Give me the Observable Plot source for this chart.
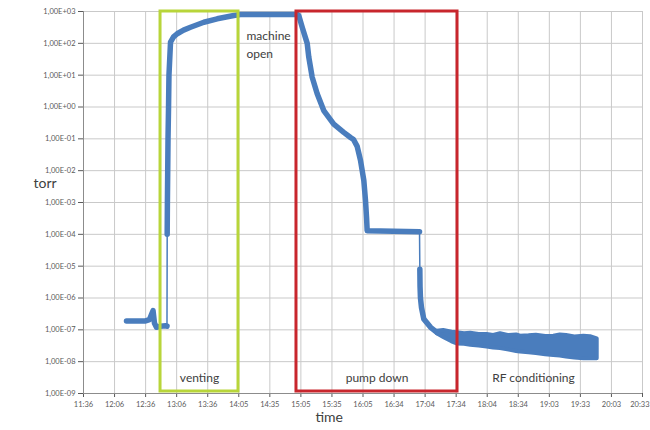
<!DOCTYPE html>
<html>
<head>
<meta charset="utf-8">
<script src="https://cdn.jsdelivr.net/npm/d3@7"></script>
<script src="https://cdn.jsdelivr.net/npm/@observablehq/plot@0.6"></script>
<style>
  html, body { margin: 0; padding: 0; background: #fff; }
  #chart { width: 650px; height: 430px; }
</style>
</head>
<body>
<div id="chart"></div>
<script>
// ---- Axis ticks ----
const xTickLabels = ["11:36","12:06","12:36","13:06","13:36","14:05","14:35","15:05","15:35","16:05","16:34","17:04","17:34","18:04","18:34","19:03","19:33","20:03","20:33"];
const axisStartMin = 696;   // 11:36 in minutes after midnight
const axisEndMin = 1233;    // 20:33
const yTickValues = [1e3, 1e2, 1e1, 1e0, 1e-1, 1e-2, 1e-3, 1e-4, 1e-5, 1e-6, 1e-7, 1e-8, 1e-9];
const yTickLabels = ["1,00E+03","1,00E+02","1,00E+01","1,00E+00","1,00E-01","1,00E-02","1,00E-03","1,00E-04","1,00E-05","1,00E-06","1,00E-07","1,00E-08","1,00E-09"];

// ---- Pressure data (time in minutes after midnight, pressure in torr) ----
// idle vacuum before venting
const idleTime = [737.3, 746.0, 755.6, 759.4, 761.3, 762.8, 764.2, 766.1, 770.0, 774.8, 776.2];
const idleTorr = [1.9e-7, 1.9e-7, 1.9e-7, 2.1e-7, 3.0e-7, 4.0e-7, 1.6e-7, 1.2e-7, 1.3e-7, 1.35e-7, 1.3e-7];
// venting, machine open, first pump down stage
const ventTime = [776.4, 776.6, 776.9, 777.2, 777.7, 778.1, 779.6, 782.5, 786.0, 792.1, 798.8, 811.6, 824.4, 840.4, 846.8, 901.6,
                  902.8, 906.1, 910.9, 912.4, 915.7, 920.5, 926.8, 936.4, 946.0, 952.5, 955.4, 958.9, 962.1, 965.3, 966.9, 967.9, 968.5, 1018.8];
const ventTorr = [1.0e-4, 1.0e-3, 1.0e-2, 1.0e-1, 1.0, 10, 110, 160, 200, 260, 320, 460, 590, 750, 800, 800,
                  750, 320, 100, 37, 8.6, 2.6, 0.77, 0.29, 0.16, 0.11, 0.095, 0.058, 0.021, 0.0049, 0.00115, 0.00034, 0.00013, 0.00012];
// second pump down stage
const pumpTime = [1019.1, 1019.3, 1019.7, 1020.7, 1022.9, 1029.4, 1035.8];
const pumpTorr = [8e-6, 2.3e-6, 1e-6, 5e-7, 2.2e-7, 1.2e-7, 8.2e-8];
// RF conditioning: noisy band (low / high envelope)
const rfTime = [1035.8, 1042.0, 1050.0, 1055.0, 1062.0, 1068.0, 1076.0, 1083.8, 1090.0, 1096.6, 1105.0, 1112.0, 1115.8, 1124.0, 1131.0, 1140.0, 1147.8, 1154.0, 1160.0, 1168.0, 1176.6, 1183.0, 1189.5];
const rfLow  = [7.5e-8, 5.8e-8, 4.2e-8, 3.6e-8, 3.5e-8, 3.3e-8, 3.1e-8, 2.9e-8, 2.7e-8, 2.6e-8, 2.3e-8, 2.1e-8, 2.0e-8, 1.9e-8, 1.8e-8, 1.65e-8, 1.55e-8, 1.5e-8, 1.4e-8, 1.3e-8, 1.23e-8, 1.25e-8, 1.23e-8];
const rfHigh = [9.0e-8, 9.5e-8, 8.4e-8, 8.1e-8, 7.5e-8, 7.8e-8, 7.2e-8, 7.1e-8, 6.7e-8, 7.6e-8, 6.6e-8, 6.9e-8, 6.3e-8, 6.5e-8, 6.8e-8, 6.2e-8, 6.3e-8, 6.9e-8, 6.6e-8, 6.0e-8, 6.3e-8, 6.1e-8, 5.2e-8];

// ---- Phases ----
const phaseNames = ["venting", "pump down", "RF conditioning"];
const phaseStart = [770.0, 900.6, 1055.3];
const phaseEnd   = [844.9, 1055.3, 1201.3];

// ---- Build tables ----
const xTickValues = xTickLabels.map((_, i) => axisStartMin + i * (axisEndMin - axisStartMin) / (xTickLabels.length - 1));
const lastTick = xTickValues.length - 1;
const rows = [
  ...idleTime.map((t, i) => ({t, p: idleTorr[i], seg: "idle"})),
  ...ventTime.map((t, i) => ({t, p: ventTorr[i], seg: "vent"})),
  ...pumpTime.map((t, i) => ({t, p: pumpTorr[i], seg: "pump"}))
];
const band = rfTime.map((t, i) => ({t, lo: rfLow[i], hi: rfHigh[i]}));
const phases = phaseNames.map((name, i) => ({name, start: phaseStart[i], end: phaseEnd[i], mid: (phaseStart[i] + phaseEnd[i]) / 2}));

const blue = "#4a7dbd";
const green = "#b8d53a";
const red = "#c8262d";
const gridColor = "#c9c9c9";
const textColor = "#404040";
const tickColor = "#5a5a5a";

const chart = Plot.plot({
  width: 650,
  height: 430,
  marginLeft: 83,
  marginRight: 8,
  marginTop: 11,
  marginBottom: 37,
  style: {fontFamily: "Lato, 'Open Sans', sans-serif", background: "#fff", overflow: "visible"},
  x: {domain: [axisStartMin, axisEndMin]},
  y: {type: "log", domain: [1e-9, 1e3]},
  marks: [
    Plot.gridX(xTickValues, {stroke: gridColor, strokeOpacity: 1}),
    Plot.gridY(yTickValues, {stroke: gridColor, strokeOpacity: 1}),
    Plot.axisX(xTickValues, {
      tickFormat: d => { const i = xTickValues.indexOf(d); return i === lastTick ? "" : xTickLabels[i]; },
      tickSize: 4, tickPadding: 4, fontSize: 7.5, color: tickColor, label: null
    }),
    // last time label kept inside the page edge
    Plot.text([xTickValues[lastTick]], {x: d => d, text: () => xTickLabels[lastTick], frameAnchor: "bottom", lineAnchor: "top",
      textAnchor: "end", dy: 8, dx: 7, fontSize: 7.5, fill: tickColor}),
    Plot.axisY(yTickValues, {
      tickFormat: d => yTickLabels[yTickValues.indexOf(d)],
      tickSize: 5, tickPadding: 3, fontSize: 7.5, color: tickColor, label: null
    }),
    Plot.ruleX([axisStartMin], {stroke: "#8c8c8c"}),
    Plot.ruleY([1e-9], {stroke: "#8c8c8c"}),
    // thin connecting line through all readings
    Plot.line(rows, {x: "t", y: "p", stroke: blue, strokeWidth: 1.5}),
    // dense marker runs drawn thick
    Plot.line(rows, {x: "t", y: "p", z: "seg", stroke: blue, strokeWidth: 5.5, strokeLinecap: "round", strokeLinejoin: "round"}),
    // noisy RF conditioning band
    Plot.areaY(band, {x: "t", y1: "lo", y2: "hi", fill: blue, stroke: blue, strokeWidth: 4, strokeLinejoin: "round"}),
    // phase boxes
    Plot.rect(phases.slice(0, 1), {x1: "start", x2: "end", fill: "none", stroke: green, strokeWidth: 3, insetBottom: 2}),
    Plot.rect(phases.slice(1, 2), {x1: "start", x2: "end", fill: "none", stroke: red, strokeWidth: 3, insetBottom: 2}),
    // phase labels
    Plot.text(phases, {x: "mid", text: "name", frameAnchor: "bottom", dy: -12, fontSize: 12, fill: textColor}),
    Plot.text(phases.slice(0, 1), {x: "end", text: () => "machine\nopen", frameAnchor: "top", lineAnchor: "top", textAnchor: "start",
      dx: 8, dy: 16, lineHeight: 1.5, fontSize: 12, fill: textColor}),
    // axis titles
    Plot.text(["torr"], {frameAnchor: "left", dx: -50, dy: -19, fontSize: 14, fill: textColor}),
    Plot.text(["time"], {x: () => 932, frameAnchor: "bottom", dy: 28, fontSize: 14, fill: textColor})
  ]
});

document.getElementById("chart").appendChild(chart);
</script>
</body>
</html>
